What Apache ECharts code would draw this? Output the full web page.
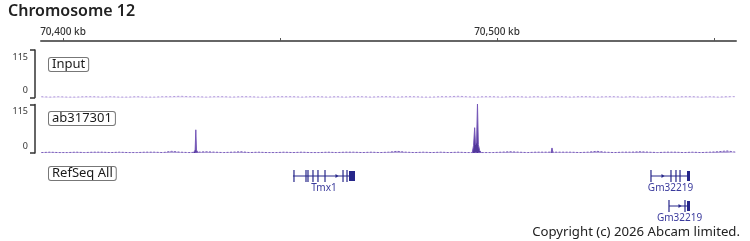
<!DOCTYPE html>
<html><head><meta charset="utf-8">
<script src="https://cdn.jsdelivr.net/npm/echarts@6/dist/echarts.min.js"></script>
<style>html,body{margin:0;padding:0;background:#fff}#c{width:750px;height:241px}</style>
</head><body><div id="c"></div>
<script>
// ---------- data ----------
const chromName = 'Chromosome 12';
const viewStartKb = 70394.93;
const viewEndKb = 70555.07;
const tickValuesKb = [70400, 70450, 70500, 70550];
const labelValuesKb = [70400, 70500];
const trackNames = ['Input', 'ab317301'];
const annotationName = 'RefSeq All';
const trackMax = 115;
const binStartKb = 70395;
const binSizeKb = 2;
const inputValues = [2,1,2,1,1,2,2,1,2,1, 1,2,1,1,2,2,3,2,2,1, 2,2,1,2,2,1,1,2,2,2, 1,2,2,1,2,1,2,2,1,2,
  2,1,2,2,1,1,2,2,3,2, 1,2,2,1,2,2,1,2,1,2, 2,1,2,2,1,2,2,1,2,1, 1,2,2,1,2,2,1,2,1,2, 2];
const chipBackground = [1,2,1,1,2,1,2,2,1,2, 1,1,2,2,1,4,2,1,2,3, 2,1,2,3,1,2,1,1,2,1, 2,1,1,2,1,2,2,1,2,1,
  2,4,2,1,2,1,2,1,2,1, 2,2,1,2,3,2,1,2,2,1, 2,2,1,2,4,2,1,2,2,3, 2,1,2,2,1,2,1,2,3,5, 2];
const chipPeaks = [
  [[70430.1, 1], [70430.45, 7], [70430.6, 55], [70430.75, 7], [70431.1, 1]],
  [[70494.3, 1], [70494.6, 18], [70494.85, 60], [70495.05, 20], [70495.3, 26], [70495.5, 118], [70495.7, 20], [70496.0, 6], [70496.4, 1]],
  [[70512.45, 1], [70512.67, 12], [70512.9, 1]]
];
const geneNames = ['Tmx1', 'Gm32219', 'Gm32219'];
const geneStarts = [70452.99, 70535.48, 70539.63];
const geneEnds = [70467.28, 70544.47, 70544.47];
const geneRows = [0, 0, 1];
const geneExonTicks = [
  [70453.22, 70455.99, 70456.45, 70457.60, 70458.75, 70460.37, 70464.52, 70465.44],
  [70535.48, 70540.09, 70541.24, 70542.17],
  [70539.63, 70543.32]
];
const geneBlocks = [
  [[70465.90, 70467.28]],
  [[70543.78, 70544.47]],
  [[70543.78, 70544.47]]
];
const geneArrows = [[70463.13], [70538.25], [70542.17]];
const copyrightText = 'Copyright (c) 2026 Abcam limited.';

// ---------- build ----------
const inputData = inputValues.map((v, i) => [binStartKb + i * binSizeKb, v]);
const peakRanges = chipPeaks.map(c => [c[0][0] - 0.6, c[c.length - 1][0] + 0.6]);
const chipBgData = chipBackground.map((v, i) => [binStartKb + i * binSizeKb, v])
  .filter(p => !peakRanges.some(r => p[0] >= r[0] && p[0] <= r[1]));
const chipPeakData = [];
chipPeaks.forEach((c, i) => { if (i) chipPeakData.push([c[0][0] - 0.01, '-']); c.forEach(p => chipPeakData.push(p)); });
const geneData = geneNames.map((n, i) => [geneStarts[i], geneEnds[i], geneRows[i], i]);

const FONT = '"Noto Sans", sans-serif';
const geneColor = '#26268a';

function trackY(gi) {
  return {
    gridIndex: gi, type: 'value', min: 0, max: trackMax, interval: trackMax,
    position: 'left', offset: 6,
    axisLine: { show: true, onZero: false, lineStyle: { color: '#333', width: 1.5 } },
    axisTick: { show: true, length: 5, lineStyle: { color: '#333', width: 1.5 } },
    axisLabel: { fontSize: 9, color: '#333', margin: 7, fontFamily: FONT, lineHeight: 14,
      verticalAlignMinLabel: 'bottom', verticalAlignMaxLabel: 'top' },
    splitLine: { show: false }
  };
}

const labelBox = { fontSize: 13, fontFamily: FONT, fill: '#1a1a1a', lineHeight: 13,
  backgroundColor: '#fff', borderColor: '#777', borderWidth: 1, borderRadius: 2, padding: [0, 3] };

const chart = echarts.init(document.getElementById('c'), null, { renderer: 'canvas' });
chart.setOption({
  animation: false,
  backgroundColor: '#fff',
  grid: [
    { left: 41, right: 14, top: 50, height: 47.5 },
    { left: 41, right: 14, top: 104.5, height: 48.5 },
    { left: 41, right: 14, top: 161, height: 60 }
  ],
  xAxis: [
    { gridIndex: 0, type: 'value', position: 'top', offset: 9, min: viewStartKb, max: viewEndKb,
      axisLine: { show: true, onZero: false, lineStyle: { color: '#666', width: 2 } },
      axisTick: { show: true, customValues: tickValuesKb, length: 3, lineStyle: { color: '#555', width: 1 } },
      axisLabel: { customValues: labelValuesKb, fontSize: 10, fontWeight: 500, color: '#333', margin: 4, fontFamily: FONT,
        formatter: v => Number(v).toLocaleString('en-US') + ' kb' },
      splitLine: { show: false } },
    { gridIndex: 1, type: 'value', min: viewStartKb, max: viewEndKb, show: false },
    { gridIndex: 2, type: 'value', min: viewStartKb, max: viewEndKb, show: false }
  ],
  yAxis: [
    trackY(0), trackY(1),
    { gridIndex: 2, type: 'value', min: -0.5, max: 1.5, inverse: true, show: false }
  ],
  series: [
    { type: 'line', xAxisIndex: 0, yAxisIndex: 0, data: inputData, symbol: 'none', clip: true,
      lineStyle: { color: '#b39bdc', width: 1, type: [2, 2] }, areaStyle: { color: '#c9b8e8', opacity: 0.6 } },
    { type: 'line', xAxisIndex: 1, yAxisIndex: 1, data: chipBgData, symbol: 'none', clip: true,
      lineStyle: { color: '#7a5cbc', width: 1, type: [2, 1.5] }, areaStyle: { color: '#6a4cb0', opacity: 0.5 } },
    { type: 'line', xAxisIndex: 1, yAxisIndex: 1, data: chipPeakData, symbol: 'none', clip: true, connectNulls: false,
      lineStyle: { color: '#7658b8', width: 1 }, areaStyle: { color: '#3f2290', opacity: 0.9 } },
    { type: 'custom', xAxisIndex: 2, yAxisIndex: 2, data: geneData, clip: false,
      renderItem: function (params, api) {
        const gi = api.value(3);
        const y = api.coord([geneStarts[gi], geneRows[gi]])[1];
        const x0 = api.coord([geneStarts[gi], 0])[0];
        const x1 = api.coord([geneEnds[gi], 0])[0];
        const ch = [{ type: 'line', shape: { x1: x0, y1: y, x2: x1, y2: y }, style: { stroke: geneColor, lineWidth: 1 } }];
        geneExonTicks[gi].forEach(k => {
          const x = api.coord([k, 0])[0];
          ch.push({ type: 'rect', shape: { x: x - 0.6, y: y - 6, width: 1.2, height: 12 }, style: { fill: geneColor } });
        });
        geneBlocks[gi].forEach(b => {
          const xa = api.coord([b[0], 0])[0], xb = api.coord([b[1], 0])[0];
          ch.push({ type: 'rect', shape: { x: xa, y: y - 5, width: xb - xa, height: 10 }, style: { fill: geneColor } });
        });
        geneArrows[gi].forEach(k => {
          const x = api.coord([k, 0])[0];
          ch.push({ type: 'polygon', shape: { points: [[x - 1.5, y - 2], [x + 1.5, y], [x - 1.5, y + 2]] }, style: { fill: geneColor } });
        });
        ch.push({ type: 'text', style: { text: geneNames[gi], x: (x0 + x1) / 2, y: y + 12.5, align: 'center', verticalAlign: 'middle',
          fontSize: 10, fontFamily: FONT, fill: '#3a3a9c' } });
        return { type: 'group', children: ch };
      } }
  ],
  graphic: [
    { type: 'text', left: 8, top: 3, style: { text: chromName, fontSize: 16, fontWeight: 600, fontFamily: FONT, fill: '#222' } },
    { type: 'text', x: 49, y: 58, style: Object.assign({ text: trackNames[0] }, labelBox) },
    { type: 'text', x: 49, y: 112, style: Object.assign({ text: trackNames[1] }, labelBox) },
    { type: 'text', x: 49, y: 167, style: Object.assign({ text: annotationName }, labelBox) },
    { type: 'text', right: 10, top: 226, style: { text: copyrightText, fontSize: 13.2, fontFamily: FONT, fill: '#222' } }
  ]
});
</script></body></html>
